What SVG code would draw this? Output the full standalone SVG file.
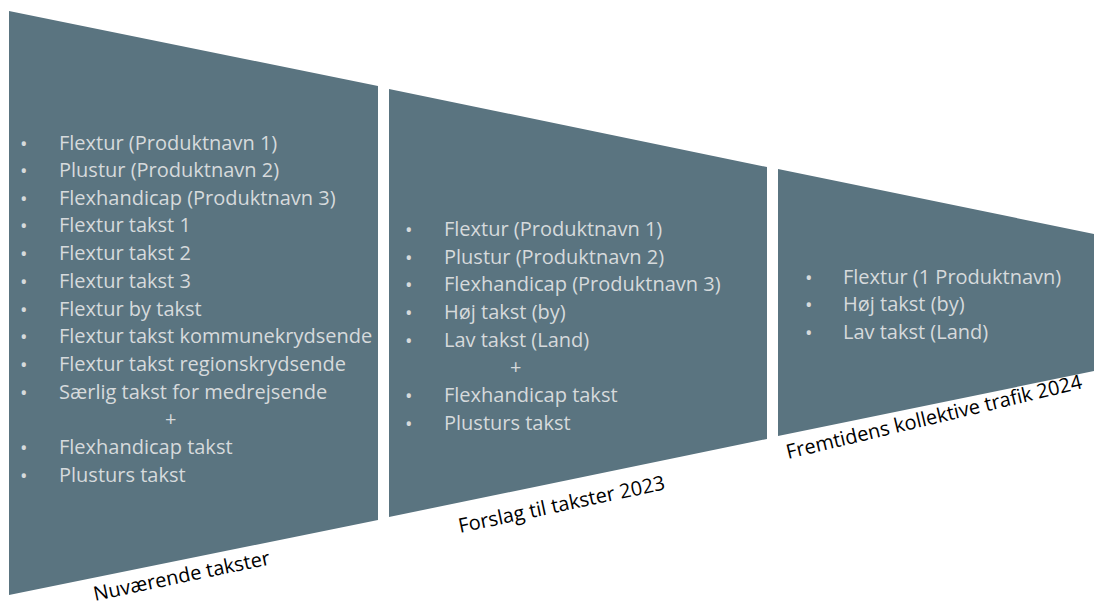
<svg xmlns="http://www.w3.org/2000/svg" width="1094" height="607" viewBox="0 0 1094 607">
<style>
.shape{fill:#5A7480}
.item{font-family:"Open Sans","Liberation Sans",sans-serif;font-size:20px;fill:#D6DADC}
.lbl{font-family:"Open Sans","Liberation Sans",sans-serif;font-size:20px;fill:#000}
</style>
<rect width="1094" height="607" fill="#fff"/>
<g id="node-nuvaerende">
<polygon class="shape" points="9,11 378,86 378,520 9,595"/>
<g class="item">
<text x="20" y="151">•</text><text x="59" y="150">Flextur (Produktnavn 1)</text>
<text x="20" y="178">•</text><text x="59" y="177">Plustur (Produktnavn 2)</text>
<text x="20" y="206">•</text><text x="59" y="205">Flexhandicap (Produktnavn 3)</text>
<text x="20" y="233">•</text><text x="59" y="232">Flextur takst 1</text>
<text x="20" y="261">•</text><text x="59" y="260">Flextur takst 2</text>
<text x="20" y="289">•</text><text x="59" y="288">Flextur takst 3</text>
<text x="20" y="317">•</text><text x="59" y="316">Flextur by takst</text>
<text x="20" y="344">•</text><text x="59" y="343">Flextur takst kommunekrydsende</text>
<text x="20" y="372">•</text><text x="59" y="371">Flextur takst regionskrydsende</text>
<text x="20" y="400">•</text><text x="59" y="399">Særlig takst for medrejsende</text>
<text x="165" y="426">+</text>
<text x="20" y="455">•</text><text x="59" y="454">Flexhandicap takst</text>
<text x="20" y="483">•</text><text x="59" y="482">Plusturs takst</text>
</g>
<text class="lbl" transform="translate(95,601) rotate(-11.8)">Nuværende takster</text>
</g>
<g id="node-forslag">
<polygon class="shape" points="389,89 767,167 767,439 389,517"/>
<g class="item">
<text x="405" y="237">•</text><text x="444" y="236">Flextur (Produktnavn 1)</text>
<text x="405" y="265">•</text><text x="444" y="264">Plustur (Produktnavn 2)</text>
<text x="405" y="292">•</text><text x="444" y="291">Flexhandicap (Produktnavn 3)</text>
<text x="405" y="320">•</text><text x="444" y="319">Høj takst (by)</text>
<text x="405" y="348">•</text><text x="444" y="347">Lav takst (Land)</text>
<text x="510" y="374">+</text>
<text x="405" y="403">•</text><text x="444" y="402">Flexhandicap takst</text>
<text x="405" y="431">•</text><text x="444" y="430">Plusturs takst</text>
</g>
<text class="lbl" transform="translate(460,533) rotate(-12)">Forslag til takster 2023</text>
</g>
<g id="node-fremtidens">
<polygon class="shape" points="778,169 1094,234 1094,371 778,436"/>
<g class="item">
<text x="805" y="285">•</text><text x="843" y="284">Flextur (1 Produktnavn)</text>
<text x="805" y="312">•</text><text x="843" y="311">Høj takst (by)</text>
<text x="805" y="340">•</text><text x="843" y="339">Lav takst (Land)</text>
</g>
<text class="lbl" transform="translate(788,459) rotate(-13.5)">Fremtidens kollektive trafik 2024</text>
</g>
<g id="connectors"></g>
</svg>
